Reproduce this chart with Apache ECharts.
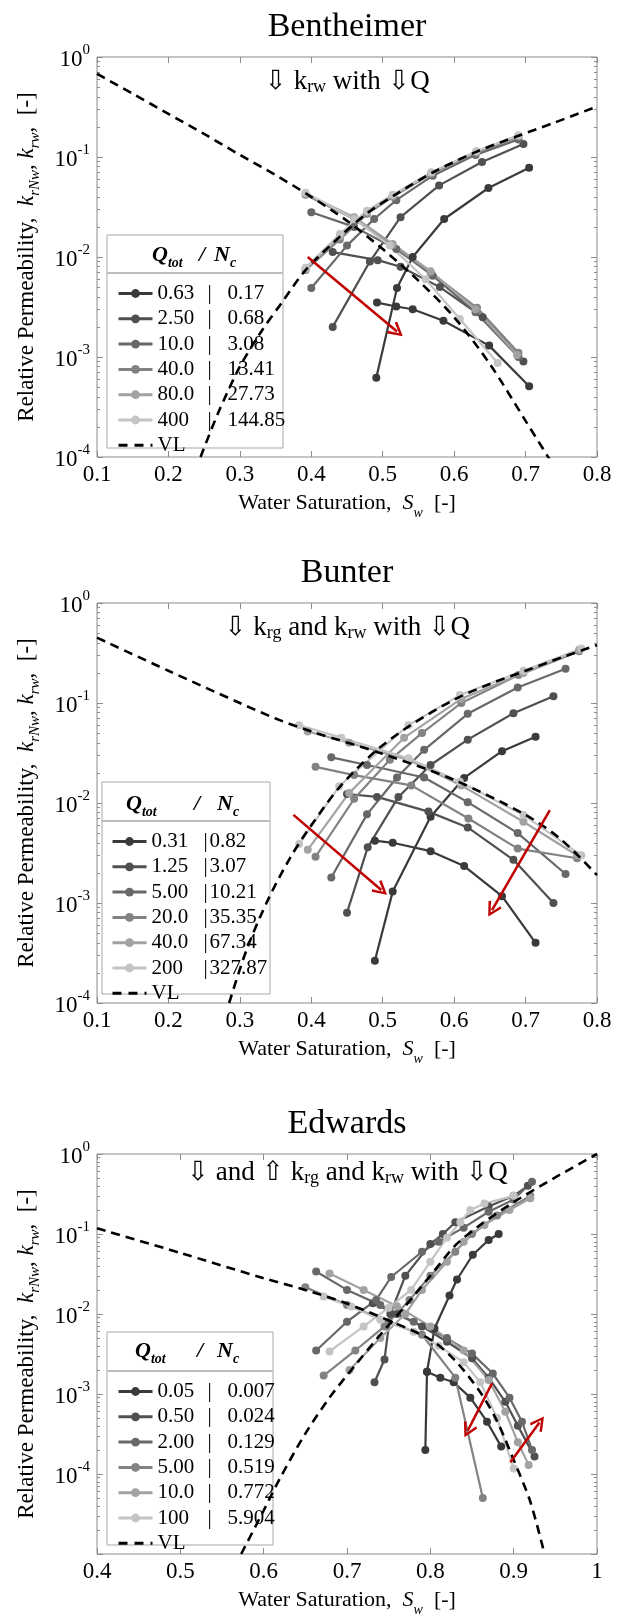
<!DOCTYPE html>
<html>
<head>
<meta charset="utf-8">
<script src="https://cdn.jsdelivr.net/npm/echarts@6/dist/echarts.min.js"></script>
<style>
html, body { margin: 0; padding: 0; background: #fff; }
#box { width: 623px; height: 1621px; }
</style>
</head>
<body>
<div id="box"></div>
<script>
// ---- data: [Sw, k] pairs ----
var benQ  = ['0.63', '2.50', '10.0', '40.0', '80.0', '400'];
var benNc = ['0.17', '0.68', '3.08', '13.41', '27.73', '144.85'];
var benKrw = [
    [[0.491,6.2e-4],[0.52,4.9e-3],[0.542,0.01],[0.586,0.024],[0.648,0.049],[0.705,0.078]],
    [[0.43,2e-3],[0.482,9e-3],[0.525,0.025],[0.579,0.052],[0.639,0.089],[0.697,0.135]],
    [[0.40,4.9e-3],[0.45,0.013],[0.488,0.024],[0.519,0.037],[0.57,0.065],[0.63,0.105],[0.69,0.15]],
    [[0.392,7.4e-3],[0.44,0.015],[0.478,0.027],[0.514,0.04],[0.568,0.068],[0.631,0.11],[0.69,0.16]],
    [[0.392,7.6e-3],[0.44,0.016],[0.478,0.028],[0.514,0.041],[0.568,0.07],[0.631,0.113],[0.69,0.163]],
    [[0.392,7.8e-3],[0.44,0.017],[0.478,0.029],[0.514,0.042],[0.568,0.07],[0.631,0.114],[0.69,0.165]]
];
var benKrg = [
    [[0.492,3.5e-3],[0.519,3.2e-3],[0.542,3e-3],[0.585,2.3e-3],[0.649,1.3e-3],[0.705,5.1e-4]],
    [[0.43,0.0112],[0.493,9.3e-3],[0.525,8e-3],[0.58,5e-3],[0.64,2.5e-3],[0.697,9e-4]],
    [[0.40,0.028],[0.46,0.02],[0.519,0.012],[0.57,6.5e-3],[0.63,2.8e-3],[0.69,1e-3]],
    [[0.392,0.042],[0.46,0.024],[0.514,0.013],[0.567,7e-3],[0.632,3.1e-3],[0.69,1.1e-3]],
    [[0.392,0.043],[0.46,0.025],[0.514,0.0135],[0.567,7.2e-3],[0.63,3e-3],[0.688,1.05e-3]],
    [[0.392,0.044],[0.46,0.024],[0.51,0.013],[0.56,6e-3],[0.608,2.4e-3],[0.661,8.7e-4]]
];
var benVLw = [[0.245,1e-4],[0.27,2.8e-4],[0.3,8e-4],[0.33,1.8e-3],[0.36,3.6e-3],[0.392,7.4e-3],[0.44,0.016],[0.48,0.028],[0.52,0.043],[0.57,0.07],[0.63,0.112],[0.69,0.163],[0.74,0.22],[0.8,0.32]];
var benVLg = [[0.1,0.68],[0.15,0.43],[0.2,0.27],[0.25,0.17],[0.3,0.105],[0.35,0.066],[0.4,0.04],[0.45,0.023],[0.5,0.012],[0.55,5.8e-3],[0.6,2.5e-3],[0.65,8.5e-4],[0.7,2.3e-4],[0.74,8e-5]];
var benArrows = [[[0.395,0.01],[0.52,1.8e-3]]];

var bunQ  = ['0.31', '1.25', '5.00', '20.0', '40.0', '200'];
var bunNc = ['0.82', '3.07', '10.21', '35.35', '67.34', '327.87'];
var bunKrw = [
    [[0.489,2.65e-4],[0.514,1.3e-3],[0.567,7.3e-3],[0.614,0.0178],[0.667,0.033],[0.714,0.046]],
    [[0.45,8e-4],[0.479,3.6e-3],[0.522,0.0115],[0.567,0.024],[0.619,0.043],[0.683,0.079],[0.739,0.117]],
    [[0.428,1.8e-3],[0.478,7.7e-3],[0.52,0.018],[0.558,0.034],[0.619,0.078],[0.689,0.143],[0.756,0.22]],
    [[0.406,2.9e-3],[0.46,0.011],[0.51,0.027],[0.555,0.05],[0.61,0.1],[0.69,0.19],[0.775,0.33]],
    [[0.395,3.4e-3],[0.453,0.0126],[0.53,0.045],[0.61,0.11],[0.697,0.2],[0.775,0.34]],
    [[0.383,3.9e-3],[0.439,0.0147],[0.536,0.06],[0.608,0.12],[0.697,0.21],[0.778,0.35]]
];
var bunKrg = [
    [[0.489,4.2e-3],[0.514,4e-3],[0.567,3.3e-3],[0.614,2.34e-3],[0.667,1.17e-3],[0.714,4e-4]],
    [[0.45,0.0123],[0.492,0.0115],[0.564,8.2e-3],[0.619,5.7e-3],[0.683,2.7e-3],[0.739,1e-3]],
    [[0.428,0.0286],[0.478,0.024],[0.558,0.018],[0.619,0.0102],[0.689,5e-3],[0.756,1.95e-3]],
    [[0.406,0.023],[0.46,0.019],[0.54,0.015],[0.62,7e-3],[0.689,3.5e-3],[0.772,2.8e-3]],
    [[0.395,0.052],[0.453,0.04],[0.536,0.027],[0.61,0.015],[0.697,6.5e-3],[0.772,3e-3]],
    [[0.383,0.06],[0.442,0.045],[0.536,0.028],[0.608,0.0163],[0.697,7.6e-3],[0.778,3e-3]]
];
var bunVLw = [[0.285,1e-4],[0.31,3.5e-4],[0.34,1.1e-3],[0.37,2.8e-3],[0.4,6e-3],[0.44,0.0145],[0.49,0.033],[0.536,0.058],[0.6,0.108],[0.65,0.155],[0.7,0.21],[0.75,0.285],[0.8,0.38]];
var bunVLg = [[0.1,0.45],[0.2,0.21],[0.3,0.1],[0.35,0.07],[0.4,0.052],[0.5,0.031],[0.6,0.017],[0.7,7.6e-3],[0.75,4.3e-3],[0.8,1.9e-3]];
var bunArrows = [[[0.375,7.6e-3],[0.498,1.35e-3]], [[0.734,8.5e-3],[0.653,8.5e-4]]];

var edwQ  = ['0.05', '0.50', '2.00', '5.00', '10.0', '100'];
var edwNc = ['0.007', '0.024', '0.129', '0.519', '0.772', '5.904'];
var edwKrw = [
    [[0.794,2e-4],[0.796,1.9e-3],[0.805,6.6e-3],[0.823,0.017],[0.832,0.027],[0.851,0.055],[0.87,0.084],[0.882,0.1]],
    [[0.733,1.4e-3],[0.745,2.7e-3],[0.752,0.01],[0.77,0.03],[0.8,0.075],[0.815,0.1],[0.83,0.14],[0.87,0.22],[0.9,0.3],[0.917,0.4]],
    [[0.663,3.5e-3],[0.7,8e-3],[0.735,0.015],[0.753,0.029],[0.79,0.06],[0.81,0.08],[0.84,0.12],[0.87,0.19],[0.9,0.27],[0.922,0.45]],
    [[0.672,1.7e-3],[0.71,3.5e-3],[0.745,7e-3],[0.775,0.015],[0.8,0.03],[0.83,0.06],[0.85,0.1],[0.88,0.17],[0.92,0.3]],
    [[0.703,2e-3],[0.74,5e-3],[0.77,0.01],[0.79,0.02],[0.82,0.045],[0.84,0.08],[0.865,0.13],[0.895,0.2],[0.92,0.28]],
    [[0.679,3.4e-3],[0.72,7e-3],[0.75,0.012],[0.777,0.02],[0.8,0.045],[0.82,0.09],[0.836,0.14],[0.848,0.2],[0.865,0.24],[0.9,0.3]]
];
var edwKrg = [
    [[0.796,1.9e-3],[0.812,1.6e-3],[0.828,1.4e-3],[0.848,9e-4],[0.868,4.5e-4],[0.885,2.2e-4]],
    [[0.731,0.0136],[0.76,0.01],[0.79,7e-3],[0.82,4.5e-3],[0.85,2.8e-3],[0.87,1.6e-3],[0.89,8e-4],[0.905,4e-4],[0.925,1.65e-4]],
    [[0.663,0.034],[0.7,0.02],[0.74,0.013],[0.78,8e-3],[0.82,5e-3],[0.85,3.2e-3],[0.875,1.8e-3],[0.895,9e-4],[0.91,4.5e-4],[0.922,2e-4]],
    [[0.65,0.0216],[0.7,0.013],[0.75,8e-3],[0.79,5.5e-3],[0.83,1.6e-3],[0.863,5e-5]],
    [[0.679,0.032],[0.72,0.02],[0.76,0.0125],[0.8,7e-3],[0.84,3.5e-3],[0.87,1.5e-3],[0.89,6e-4],[0.905,2.5e-4],[0.918,1.3e-4]],
    [[0.672,0.0165],[0.705,0.0124],[0.74,8.5e-3],[0.78,6e-3],[0.81,4e-3],[0.84,2.5e-3],[0.86,1.4e-3],[0.88,5e-4],[0.9,1.17e-4]]
];
var edwVLw = [[0.573,1e-5],[0.6,3.5e-5],[0.62,9e-5],[0.65,3.2e-4],[0.68,9.3e-4],[0.71,2.3e-3],[0.74,5.5e-3],[0.77,0.0126],[0.8,0.03],[0.83,0.072],[0.86,0.13],[0.9,0.25],[0.95,0.51],[1,1]];
var edwVLg = [[0.4,0.118],[0.5,0.058],[0.6,0.028],[0.65,0.02],[0.7,0.0135],[0.75,8.3e-3],[0.8,4.8e-3],[0.83,2.6e-3],[0.86,1.05e-3],[0.88,4.6e-4],[0.9,1.5e-4],[0.92,4.5e-5],[0.937,1e-5]];
var edwArrows = [[[0.874,1.36e-3],[0.845,3.5e-4]], [[0.896,1.4e-4],[0.931,4.4e-4]]];

var minorMantissa = [2, 3, 4, 5, 6, 7, 8, 9];

// ---- styling ----
var SERIF = 'Liberation Serif, DejaVu Serif, serif';
var grays = ['#3a3a3a', '#505050', '#686868', '#828282', '#a2a2a2', '#c4c4c4'];
var boxColor = '#8c8c8c';
var chevron = 'path://M5,0 L10,9 L8.6,10 L5,3.2 L1.4,10 L0,9 Z';

var panels = [
    {key: 'B', title: 'Bentheimer', note: '{a|⇩ k}{s|rw}{a| with ⇩Q}', top: 57, noteY: 82,
     xMin: 0.1, xMax: 0.8, yMinExp: -4, q: benQ, nc: benNc, krw: benKrw, krg: benKrg,
     vlw: benVLw, vlg: benVLg, arrows: benArrows,
     box: [107, 235, 176, 213], headY: 257, sepY: 273, rowY: 288, itemX: 112, qW: 50, bW: 20, head: [152, 202, 214]},
    {key: 'U', title: 'Bunter', note: '{a|⇩ k}{s|rg}{a| and k}{s|rw}{a| with ⇩Q}', top: 603, noteY: 628,
     xMin: 0.1, xMax: 0.8, yMinExp: -4, q: bunQ, nc: bunNc, krw: bunKrw, krg: bunKrg,
     vlw: bunVLw, vlg: bunVLg, arrows: bunArrows,
     box: [102, 782, 168, 212], headY: 806, sepY: 821, rowY: 836, itemX: 106, qW: 52, bW: 6, head: [126, 197, 217]},
    {key: 'E', title: 'Edwards', note: '{a|⇩ and ⇧ k}{s|rg}{a| and k}{s|rw}{a| with ⇩Q}', top: 1154, noteY: 1173,
     xMin: 0.4, xMax: 1, yMinExp: -5, q: edwQ, nc: edwNc, krw: edwKrw, krg: edwKrg,
     vlw: edwVLw, vlg: edwVLg, arrows: edwArrows,
     box: [107, 1332, 166, 213], headY: 1353, sepY: 1371, rowY: 1386, itemX: 112, qW: 50, bW: 20, head: [135, 200, 217]}
];

function subRich(size) {
    var s = Math.round(size * 0.65);
    return {
        a: {fontFamily: SERIF, fontSize: size, color: '#000', lineHeight: 28, verticalAlign: 'top'},
        i: {fontFamily: SERIF, fontSize: size, color: '#000', fontStyle: 'italic', lineHeight: 28, verticalAlign: 'top'},
        s: {fontFamily: SERIF, fontSize: s, color: '#000', lineHeight: 12, verticalAlign: 'bottom'},
        si: {fontFamily: SERIF, fontSize: s, color: '#000', fontStyle: 'italic', lineHeight: 12, verticalAlign: 'bottom'}
    };
}

var grids = [], xAxes = [], yAxes = [], series = [], legends = [], graphics = [];

panels.forEach(function (P, p) {
    grids.push({left: 97, top: P.top, width: 500, height: 400, show: true,
        borderColor: boxColor, borderWidth: 1, backgroundColor: '#fff', outerBoundsMode: 'none'});

    var tick = {inside: true, length: 6, lineStyle: {color: boxColor, width: 1}};
    xAxes.push({
        gridIndex: p, type: 'value', min: P.xMin, max: P.xMax, interval: 0.1, position: 'bottom',
        axisLine: {show: false, onZero: false}, axisTick: tick, splitLine: {show: false},
        axisLabel: {fontFamily: SERIF, fontSize: 23, color: '#000', margin: 6,
            formatter: function (v) { return String(Math.round(v * 10) / 10); }},
        name: '{a|Water Saturation,  }{i|S}{si|w}{a|  [-]}', nameLocation: 'middle', nameGap: 35,
        nameTextStyle: {fontFamily: SERIF, rich: subRich(22)}
    });
    xAxes.push({
        gridIndex: p, type: 'value', min: P.xMin, max: P.xMax, interval: 0.1, position: 'top',
        axisLine: {show: false, onZero: false}, axisTick: tick, splitLine: {show: false},
        axisLabel: {show: false}
    });

    var yMin = Math.pow(10, P.yMinExp);
    yAxes.push({
        gridIndex: p, type: 'log', logBase: 10, min: yMin, max: 1, position: 'left',
        axisLine: {show: false, onZero: false}, axisTick: tick, splitLine: {show: false},
        axisLabel: {margin: 7, fontFamily: SERIF,
            formatter: function (v) {
                var e = Math.round(Math.log10(v));
                if (e <= -5) return '';
                return '{b|10}{e|' + e + '}';
            },
            rich: {
                b: {fontFamily: SERIF, fontSize: 23, color: '#000', lineHeight: 28, verticalAlign: 'bottom'},
                e: {fontFamily: SERIF, fontSize: 15, color: '#000', lineHeight: 14, verticalAlign: 'top'}
            }},
        name: '{a|Relative Permeability,  }{i|k}{si|rNw}{a|, }{i|k}{si|rw}{a|,  [-]}',
        nameLocation: 'middle', nameRotate: 90, nameGap: 54,
        nameTextStyle: {fontFamily: SERIF, rich: subRich(23)}
    });
    yAxes.push({
        gridIndex: p, type: 'log', logBase: 10, min: yMin, max: 1, position: 'right',
        axisLine: {show: false, onZero: false}, axisTick: tick, splitLine: {show: false},
        axisLabel: {show: false}
    });
    var minors = [];
    for (var e = P.yMinExp; e < 0; e++) {
        minorMantissa.forEach(function (m) { minors.push(e + Math.log10(m)); });
    }
    ['left', 'right'].forEach(function (pos) {
        yAxes.push({
            gridIndex: p, type: 'value', min: P.yMinExp, max: 0, position: pos,
            axisLine: {show: false, onZero: false}, splitLine: {show: false},
            axisTick: {inside: true, length: 3, lineStyle: {color: boxColor, width: 1}, customValues: minors},
            axisLabel: {show: false}
        });
    });

    // measured series: two branches per flow rate, same legend entry
    P.q.forEach(function (q, i) {
        [P.krw[i], P.krg[i]].forEach(function (d) {
            series.push({
                type: 'line', name: P.key + q, xAxisIndex: 2 * p, yAxisIndex: 4 * p, data: d,
                symbol: 'circle', symbolSize: 8, color: grays[i],
                lineStyle: {width: 2.2, color: grays[i]}, itemStyle: {color: grays[i], borderWidth: 0},
                emphasis: {disabled: true}, animation: false, z: 2
            });
        });
    });
    [P.vlw, P.vlg].forEach(function (d) {
        series.push({
            type: 'line', name: P.key + 'VL', xAxisIndex: 2 * p, yAxisIndex: 4 * p, data: d,
            symbol: 'none', smooth: 0.3, color: '#000',
            lineStyle: {width: 2.6, color: '#000', type: [9, 6]},
            emphasis: {disabled: true}, animation: false, z: 3
        });
    });
    series.push({
        type: 'lines', coordinateSystem: 'cartesian2d', xAxisIndex: 2 * p, yAxisIndex: 4 * p,
        data: P.arrows.map(function (a) { return {coords: a}; }),
        symbol: ['none', chevron], symbolSize: 15, silent: true, animation: false, z: 6,
        lineStyle: {color: '#c00000', width: 2.5, opacity: 1, curveness: 0}
    });

    var tokenStyle = function (w) {
        var st = {fontFamily: SERIF, fontSize: 21, color: '#000', lineHeight: 20};
        if (w) st.width = w;
        return st;
    };
    legends.push({
        orient: 'vertical', left: P.itemX, top: P.rowY - 10, itemWidth: 34, itemHeight: 11, itemGap: 4.3,
        selectedMode: false, z: 4,
        lineStyle: {width: 3},
        data: P.q.map(function (q) { return P.key + q; })
            .concat([{name: P.key + 'VL', itemStyle: {opacity: 0}, lineStyle: {width: 3, type: [9, 7]}}]),
        formatter: function (name) {
            var q = name.slice(1);
            if (q === 'VL') return '{v|VL}';
            return '{q|' + q + '}{b||}{n|' + P.nc[P.q.indexOf(q)] + '}';
        },
        textStyle: {fontFamily: SERIF, fontSize: 21, color: '#000', lineHeight: 20,
            rich: {q: tokenStyle(P.qW), b: tokenStyle(P.bW), n: tokenStyle(0), v: tokenStyle(0)}}
    });

    var headRich = {
        a: {fontFamily: SERIF, fontSize: 22, fontWeight: 'bold', fontStyle: 'italic', color: '#000', lineHeight: 26, verticalAlign: 'top'},
        s: {fontFamily: SERIF, fontSize: 14, fontWeight: 'bold', fontStyle: 'italic', color: '#000', lineHeight: 10, verticalAlign: 'bottom'}
    };
    graphics.push(
        {type: 'text', x: 347, y: P.top - 30, z: 5,
         style: {text: P.title, fontFamily: SERIF, fontSize: 34, fill: '#000', align: 'center', verticalAlign: 'middle'}},
        {type: 'text', x: 347, y: P.noteY, z: 5,
         style: {text: P.note, rich: subRich(27), align: 'center', verticalAlign: 'middle'}},
        {type: 'rect', z: 3, shape: {x: P.box[0], y: P.box[1], width: P.box[2], height: P.box[3]},
         style: {fill: '#fff', stroke: '#a8a8a8', lineWidth: 1}},
        {type: 'line', z: 5, shape: {x1: P.box[0], y1: P.sepY, x2: P.box[0] + P.box[2], y2: P.sepY},
         style: {stroke: '#bdbdbd', lineWidth: 2}},
        {type: 'text', x: P.head[0], y: P.headY, z: 5,
         style: {text: '{a|Q}{s|tot}', rich: headRich, align: 'left', verticalAlign: 'middle'}},
        {type: 'text', x: P.head[1], y: P.headY, z: 5,
         style: {text: '{a|/}', rich: headRich, align: 'center', verticalAlign: 'middle'}},
        {type: 'text', x: P.head[2], y: P.headY, z: 5,
         style: {text: '{a|N}{s|c}', rich: headRich, align: 'left', verticalAlign: 'middle'}}
    );
});

var chart = echarts.init(document.getElementById('box'), null, {renderer: 'canvas'});
chart.setOption({
    backgroundColor: '#fff',
    animation: false,
    grid: grids,
    xAxis: xAxes,
    yAxis: yAxes,
    legend: legends,
    graphic: graphics,
    series: series
});
</script>
</body>
</html>
